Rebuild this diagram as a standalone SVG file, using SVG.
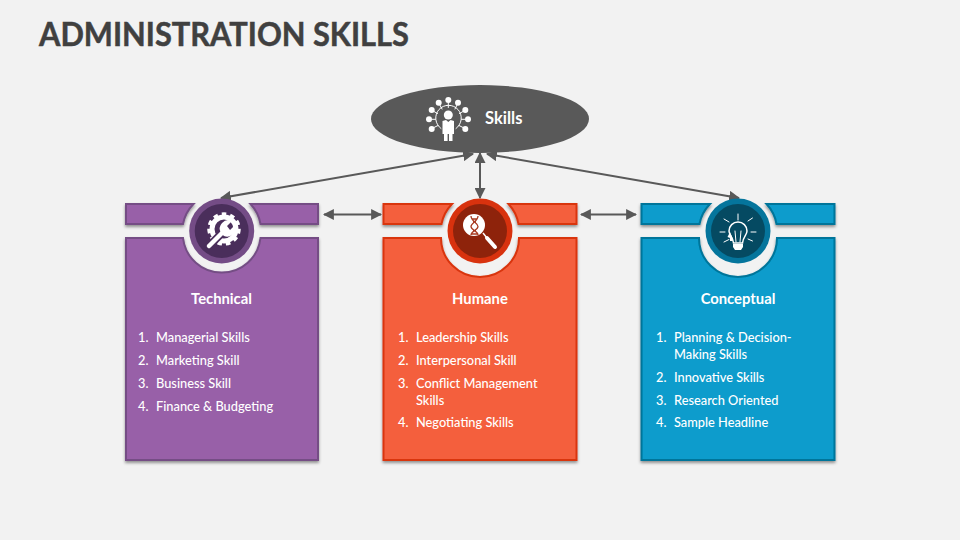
<svg xmlns="http://www.w3.org/2000/svg" width="960" height="540" viewBox="0 0 960 540">
<style>
text{font-family:Lato,"Liberation Sans",sans-serif;fill:#fff}
.h{font-size:14.800px;font-weight:700;text-anchor:middle}
.l{font-size:12.800px;font-weight:500}
.c{stroke-width:2}
.p .c{fill:#9860A8;stroke:#744E85}
.o .c{fill:#F45F3C;stroke:#D9340F}
.b .c{fill:#089CCC;stroke:#05759A}
.conn line{stroke:#595959;stroke-width:2;marker-start:url(#a);marker-end:url(#a)}
.w{fill:#fff}
.wl{stroke:#fff;fill:none;stroke-linecap:round}
</style>
<defs>
<marker id="a" viewBox="0 0 10 10" refX="9" refY="5" markerWidth="5.5" markerHeight="5.5" orient="auto-start-reverse"><path d="M0 0L10 5L0 10Z" fill="#595959"/></marker>
<filter id="sh" x="-5%" y="-5%" width="110%" height="115%"><feDropShadow dx="0" dy="2" stdDeviation="1.5" flood-color="#000" flood-opacity=".4"/></filter>
</defs>
<rect width="960" height="540" fill="#F2F2F2"/>
<text x="39" y="46" style="font-size:33px;font-weight:700;fill:#404040;stroke:#404040;stroke-width:.5" textLength="370" lengthAdjust="spacingAndGlyphs">ADMINISTRATION SKILLS</text>

<g id="connectors" class="conn">
<line x1="480" y1="153" x2="480" y2="198"/>
<line x1="473" y1="154" x2="221" y2="198"/>
<line x1="487" y1="154" x2="739" y2="198"/>
<line x1="324" y1="214.500" x2="381" y2="214.500"/>
<line x1="581" y1="214.500" x2="636" y2="214.500"/>
</g>

<g id="skills">
<ellipse cx="480" cy="119" rx="109" ry="34" fill="#595959"/>
<g class="w">
<circle cx="448.300" cy="100" r="3"/><circle cx="438.700" cy="102.700" r="3"/><circle cx="458" cy="102.700" r="3"/><circle cx="431.700" cy="110" r="3"/><circle cx="465.300" cy="110" r="3"/><circle cx="429" cy="119.300" r="3"/><circle cx="468" cy="119.300" r="3"/><circle cx="431.700" cy="129" r="3"/><circle cx="465.300" cy="129" r="3"/>
<circle cx="448.300" cy="115" r="4.500"/>
<path d="M442.500 121L446 120L448.300 122L450.600 120L454 121V134H452.500V141H449V134H447.600V141H444V134H442.500Z"/>
</g>
<path class="wl" d="M441 128.500A12.800 12.800 0 1 1 456 128.500M448.300 103V107.500M439.800 105L442 109M457 105L455 109M434 111.500L437.500 113.500M463 111.500L459.500 113.500M432 119.300H435.500M465 119.300H461.500M434 127.500L438 125.500M463 127.500L459 125.500" stroke-width="1"/>
<text x="485" y="124" style="font-size:16.500px;font-weight:700">Skills</text>
</g>

<g id="technical" class="p">
<g filter="url(#sh)">
<path class="c" d="M126 204H193.500A39 39 0 0 0 183 224H126Z"/>
<path class="c" d="M250.500 204H318V224H260.500A39 39 0 0 0 250.500 204Z"/>
<path class="c" d="M126 238H183A39 39 0 0 0 260.500 238H318V460H126Z"/>
</g>
<circle cx="221.700" cy="231" r="32.500" fill="#744C86"/>
<circle cx="221.700" cy="231" r="27" fill="#4A2E5B"/>
<circle cx="224" cy="229" r="12" fill="none" stroke="#fff" stroke-width="5"/>
<circle cx="224" cy="229" r="15" fill="none" stroke="#fff" stroke-width="3.500" stroke-dasharray="4.500 4"/>
<path d="M209 246L226 229" stroke="#4A2E5B" stroke-width="8" stroke-linecap="round"/>
<path d="M209 246L224 231" stroke="#fff" stroke-width="4.500" stroke-linecap="round"/>
<path class="w" d="M221 233A8.500 8.500 0 0 1 232 221L227 226L230 230L235 225A8.500 8.500 0 0 1 224 236Z"/>
<text class="h" x="221.500" y="304">Technical</text>
<text class="l" y="342"><tspan x="138">1.</tspan><tspan x="156">Managerial Skills</tspan></text>
<text class="l" y="365"><tspan x="138">2.</tspan><tspan x="156">Marketing Skill</tspan></text>
<text class="l" y="388"><tspan x="138">3.</tspan><tspan x="156">Business Skill</tspan></text>
<text class="l" y="411"><tspan x="138">4.</tspan><tspan x="156">Finance &amp; Budgeting</tspan></text>
</g>

<g id="humane" class="o">
<g filter="url(#sh)">
<path class="c" d="M383.500 204H452A39 39 0 0 0 441.500 224H383.500Z"/>
<path class="c" d="M508.500 204H576.500V224H518.500A39 39 0 0 0 508.500 204Z"/>
<path class="c" d="M383.500 238H441A39 39 0 0 0 519 238H576.500V460H383.500Z"/>
</g>
<circle cx="480" cy="231" r="32.500" fill="#D8320E"/>
<circle cx="480" cy="231" r="27" fill="#8E230B"/>
<path d="M483 233L487 238" stroke="#fff" stroke-width="1.500"/>
<path d="M487 238L495 247" stroke="#fff" stroke-width="4" stroke-linecap="round"/>
<circle cx="474" cy="225" r="11" fill="#fff"/>
<path d="M471 216C471 221 478 223 478 226.500C478 230 471 231 471 235M478 216C478 221 471 223 471 226.500C471 230 478 231 478 235M471.500 219H477.500M473 222H476M473 231H476M471.500 234H477.500" fill="none" stroke="#A83A20" stroke-width="1.300"/>
<text class="h" x="480" y="304">Humane</text>
<text class="l" y="342"><tspan x="398">1.</tspan><tspan x="416">Leadership Skills</tspan></text>
<text class="l" y="365"><tspan x="398">2.</tspan><tspan x="416">Interpersonal Skill</tspan></text>
<text class="l" y="388"><tspan x="398">3.</tspan><tspan x="416">Conflict Management</tspan></text>
<text class="l" y="405"><tspan x="416">Skills</tspan></text>
<text class="l" y="427"><tspan x="398">4.</tspan><tspan x="416">Negotiating Skills</tspan></text>
</g>

<g id="conceptual" class="b">
<g filter="url(#sh)">
<path class="c" d="M641.500 204H710A39 39 0 0 0 699.500 224H641.500Z"/>
<path class="c" d="M766.500 204H834.500V224H776.500A39 39 0 0 0 766.500 204Z"/>
<path class="c" d="M641.500 238H699A39 39 0 0 0 777 238H834.500V460H641.500Z"/>
</g>
<circle cx="738" cy="231" r="32.500" fill="#05759C"/>
<circle cx="738" cy="231" r="27" fill="#054A62"/>
<path class="wl" stroke-width="1" d="M738 214V220M724 219L729 222M752.500 218L748 221M720 232H725M751 232H756M724 242L729 239.500M752.500 241L748 239"/>
<path class="wl" stroke-width="1.500" d="M733.500 243C733 237 729 235 729 231A9 9 0 0 1 747 231C747 235 743 237 742.500 243Z"/>
<path class="wl" stroke-width="1" d="M736 242L735 231M740 242L741 231"/>
<path class="w" d="M730 232L727.500 237L730 238V241H733L732.500 238ZM733 244H743V247L741 250H735L733 247Z"/>
<text class="h" x="738" y="304">Conceptual</text>
<text class="l" y="342"><tspan x="656">1.</tspan><tspan x="674">Planning &amp; Decision-</tspan></text>
<text class="l" y="359"><tspan x="674">Making Skills</tspan></text>
<text class="l" y="382"><tspan x="656">2.</tspan><tspan x="674">Innovative Skills</tspan></text>
<text class="l" y="405"><tspan x="656">3.</tspan><tspan x="674">Research Oriented</tspan></text>
<text class="l" y="427"><tspan x="656">4.</tspan><tspan x="674">Sample Headline</tspan></text>
</g>
</svg>
